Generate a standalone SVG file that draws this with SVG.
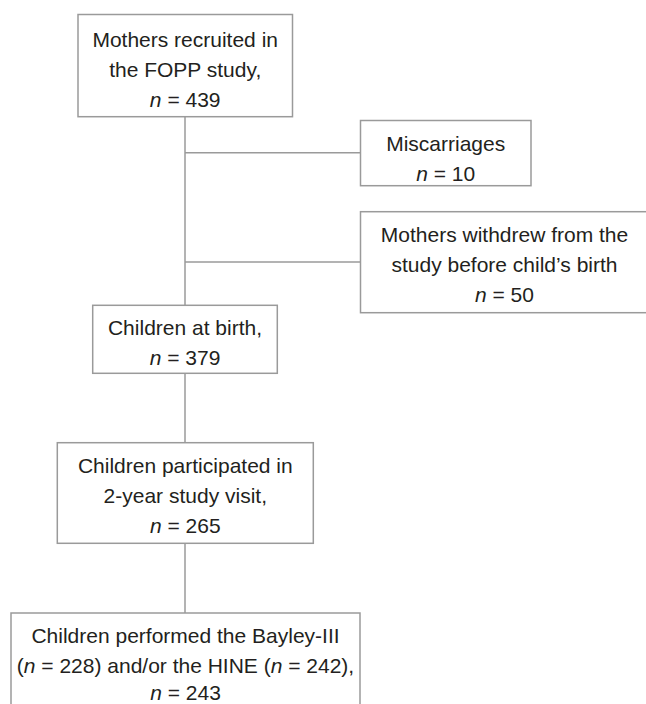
<svg xmlns="http://www.w3.org/2000/svg" width="646" height="704" viewBox="0 0 646 704">
<style>
.box{fill:#fff;stroke:#9a9a9a;stroke-width:1.5}
.ln{stroke:#9a9a9a;stroke-width:1.5;fill:none}
text{font-family:"Liberation Sans",Arial,sans-serif;font-size:21px;fill:#231f20;text-anchor:middle}
.i{font-style:italic}
</style>
<rect width="646" height="704" fill="#fff"/>
<g id="connectors">
<line class="ln" x1="185" y1="116.7" x2="185" y2="305.3"/>
<line class="ln" x1="185" y1="152.7" x2="360.5" y2="152.7"/>
<line class="ln" x1="185" y1="262" x2="360.5" y2="262"/>
<line class="ln" x1="185" y1="373.3" x2="185" y2="442.7"/>
<line class="ln" x1="185" y1="543.3" x2="185" y2="613"/>
</g>
<g id="recruited">
<rect class="box" x="78" y="14.5" width="214.5" height="102.2"/>
<text x="185.2" y="47">Mothers recruited in</text>
<text x="185.2" y="77">the FOPP study,</text>
<text x="185.2" y="107"><tspan class="i">n</tspan> = 439</text>
</g>
<g id="miscarriages">
<rect class="box" x="360.5" y="120.5" width="170.5" height="65.2"/>
<text x="445.7" y="151">Miscarriages</text>
<text x="445.7" y="180.5"><tspan class="i">n</tspan> = 10</text>
</g>
<g id="withdrew">
<rect class="box" x="360.5" y="211.7" width="300" height="101"/>
<text x="504.5" y="242">Mothers withdrew from the</text>
<text x="504.5" y="272">study before child’s birth</text>
<text x="504.5" y="302"><tspan class="i">n</tspan> = 50</text>
</g>
<g id="birth">
<rect class="box" x="92.7" y="305.3" width="184.6" height="68"/>
<text x="185" y="335">Children at birth,</text>
<text x="185" y="365"><tspan class="i">n</tspan> = 379</text>
</g>
<g id="visit">
<rect class="box" x="57.3" y="442.7" width="256" height="100.6"/>
<text x="185.3" y="472.5">Children participated in</text>
<text x="185.3" y="503">2-year study visit,</text>
<text x="185.3" y="533"><tspan class="i">n</tspan> = 265</text>
</g>
<g id="performed">
<rect class="box" x="11" y="613" width="349" height="110"/>
<text x="185.5" y="642.5">Children performed the Bayley-III</text>
<text x="185.5" y="672.5">(<tspan class="i">n</tspan> = 228) and/or the HINE (<tspan class="i">n</tspan> = 242),</text>
<text x="185.5" y="700"><tspan class="i">n</tspan> = 243</text>
</g>
</svg>
